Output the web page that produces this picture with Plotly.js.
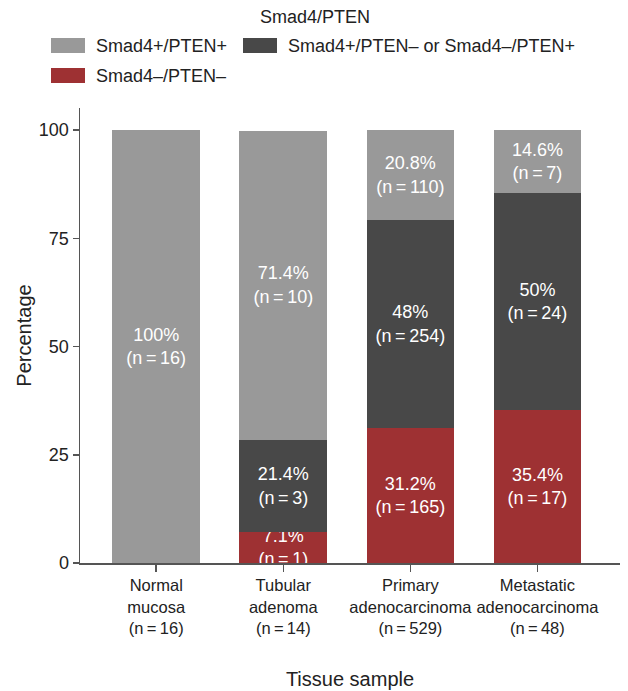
<!DOCTYPE html>
<html>
<head>
<meta charset="utf-8">
<script src="https://cdn.plot.ly/plotly-3.0.1.min.js"></script>
<style>html,body{margin:0;padding:0;background:#fff;}#chart{width:628px;height:691px;}</style>
</head>
<body>
<div id="chart"></div>
<script>
// ---- data ----
const categories = ["Normal<br>mucosa<br>(n\u2009=\u200916)", "Tubular<br>adenoma<br>(n\u2009=\u200914)", "Primary<br>adenocarcinoma<br>(n\u2009=\u2009529)", "Metastatic<br>adenocarcinoma<br>(n\u2009=\u200948)"];
const seriesNames = ["Smad4+/PTEN+", "Smad4+/PTEN\u2013 or Smad4\u2013/PTEN+", "Smad4\u2013/PTEN\u2013"];
const legendTitle = "Smad4/PTEN";
const posPct = [100, 71.4, 20.8, 14.6];
const posN = [16, 10, 110, 7];
const mixPct = [0, 21.4, 48, 50];
const mixN = [0, 3, 254, 24];
const negPct = [0, 7.1, 31.2, 35.4];
const negN = [0, 1, 165, 17];
const yTicks = [0, 25, 50, 75, 100];

const colors = ["#999999", "#484848", "#9e3133"];
const FONT = "Liberation Sans, Arial, sans-serif";
const TXT = "#222222";

// plot-area geometry (pixels) used only to place the hand-drawn legend
const W = 628, H = 691;
const M = {l: 80, r: 8, t: 108, b: 128};
const PW = W - M.l - M.r, PH = H - M.t - M.b;
const px = x => (x - M.l) / PW;
const py = y => (H - M.b - y) / PH;

function labels(pct, n) {
  return pct.map((p, i) => p > 0 ? p + "%<br>(n\u2009=\u2009" + n[i] + ")" : "");
}

function trace(name, pct, n, color) {
  return {
    type: "bar",
    name: name,
    x: categories,
    y: pct,
    text: labels(pct, n),
    textposition: "inside",
    insidetextanchor: "middle",
    textfont: {family: FONT, size: 18, color: "#ffffff"},
    marker: {color: color, line: {width: 0}},
    width: 0.69,
    hoverinfo: "skip",
    showlegend: false
  };
}

const data = [
  trace(seriesNames[2], negPct, negN, colors[2]),
  trace(seriesNames[1], mixPct, mixN, colors[1]),
  trace(seriesNames[0], posPct, posN, colors[0])
];

// legend layout: [swatch x0, swatch y0, text x, row centre y]
const legendSlots = [[51, 38, 94, 46], [243, 38, 286, 46], [51, 68, 94, 76]];
const shapes = [];
const annotations = [{
  xref: "paper", yref: "paper", x: px(315), y: py(17),
  text: legendTitle, showarrow: false, xanchor: "center", yanchor: "middle",
  font: {family: FONT, size: 18, color: TXT}
}];
seriesNames.forEach((name, i) => {
  const s = legendSlots[i];
  shapes.push({
    type: "rect", xref: "paper", yref: "paper",
    x0: px(s[0]), x1: px(s[0] + 34), y0: py(s[1]), y1: py(s[1] + 15),
    fillcolor: colors[i], line: {width: 0}
  });
  annotations.push({
    xref: "paper", yref: "paper", x: px(s[2]), y: py(s[3]),
    text: name, showarrow: false, xanchor: "left", yanchor: "middle",
    font: {family: FONT, size: 18, color: TXT}
  });
});

const layout = {
  width: W,
  height: H,
  margin: M,
  paper_bgcolor: "#ffffff",
  plot_bgcolor: "#ffffff",
  font: {family: FONT, size: 18, color: TXT},
  barmode: "stack",
  uniformtext: {mode: "show", minsize: 18},
  showlegend: false,
  shapes: shapes,
  annotations: annotations,
  xaxis: {
    type: "category",
    range: [-0.6, 3.65],
    showline: true,
    linecolor: "#555555",
    linewidth: 1.5,
    ticks: "outside",
    ticklen: 7,
    tickcolor: "#555555",
    tickwidth: 1.5,
    tickangle: 0,
    showgrid: false,
    zeroline: false,
    tickfont: {family: FONT, size: 16.5, color: TXT},
    title: {text: "Tissue sample", font: {family: FONT, size: 20, color: TXT}, standoff: 36}
  },
  yaxis: {
    range: [0, 105.1],
    tickvals: yTicks,
    ticktext: yTicks.map(String),
    showline: true,
    linecolor: "#555555",
    linewidth: 1.5,
    ticks: "outside",
    ticklen: 6,
    tickcolor: "#555555",
    tickwidth: 1.5,
    showgrid: false,
    zeroline: false,
    tickfont: {family: FONT, size: 18, color: TXT},
    title: {text: "Percentage", font: {family: FONT, size: 20, color: TXT}, standoff: 2}
  }
};

Plotly.newPlot("chart", data, layout, {displayModeBar: false, staticPlot: true});
</script>
</body>
</html>
